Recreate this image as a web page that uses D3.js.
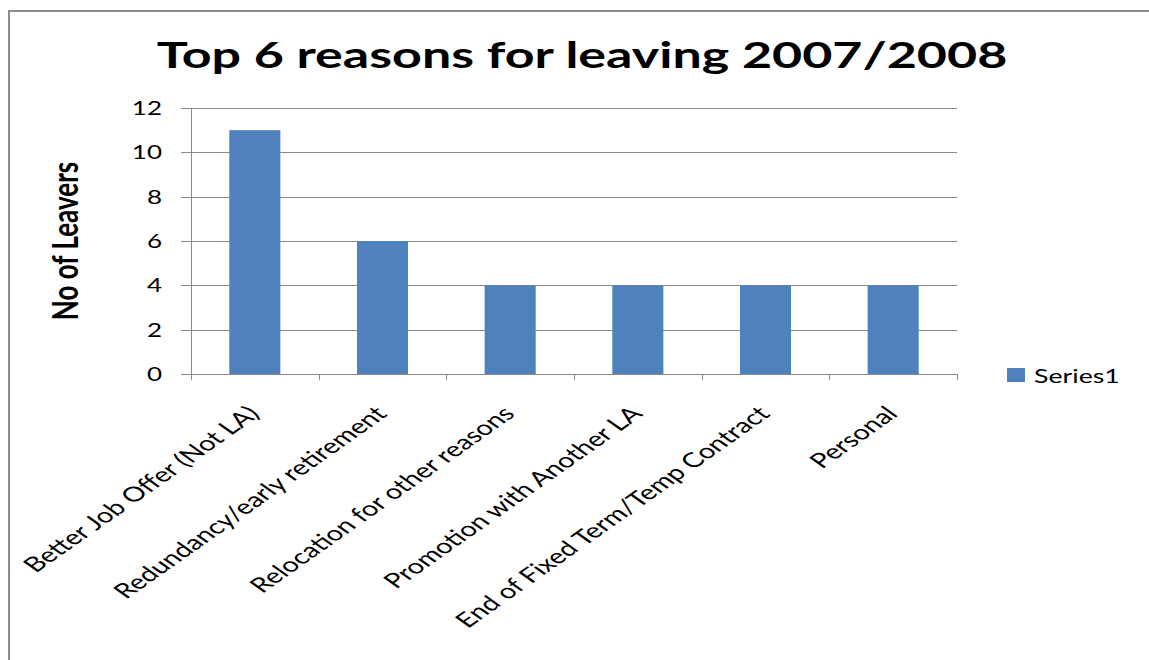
<!DOCTYPE html>
<html>
<head>
<meta charset="utf-8">
<script src="https://cdn.jsdelivr.net/npm/d3@7"></script>
<style>
  body { margin: 0; background: #fff; }
  text { font-family: Lato, "Open Sans", sans-serif; fill: #000; }
</style>
</head>
<body>
<svg id="chart" width="1149" height="660"></svg>
<script>
// Top 6 reasons for leaving 2007/2008

var reasons = ["Better Job Offer (Not LA)", "Redundancy/early retirement", "Relocation for other reasons",
    "Promotion with Another LA", "End of Fixed Term/Temp Contract", "Personal"];
var leavers = [11, 6, 4, 4, 4, 4];
var yTicks = [0, 2, 4, 6, 8, 10, 12];
var seriesName = "Series1";

var svg = d3.select("#chart"),
    width = +svg.attr("width"),
    height = +svg.attr("height");

// the original picture is stretched sideways, so text gets squashed the same way
var stretch = 1.37,
    labelStretch = 1.42;

var margin = {top: 108, right: 192, bottom: 286, left: 191},
    plotW = width - margin.left - margin.right,
    plotH = height - margin.top - margin.bottom;

// outer chart frame
svg.append("rect")
    .attr("x", 9).attr("y", 11)
    .attr("width", 1160).attr("height", 680)
    .attr("fill", "none")
    .attr("stroke", "#8c8c8c")
    .attr("stroke-width", 2);

var x = d3.scaleBand()
    .domain(reasons)
    .range([0, plotW])
    .paddingInner(0.6)
    .paddingOuter(0.3);

var y = d3.scaleLinear()
    .domain([0, 12])
    .range([plotH, 0]);

var g = svg.append("g")
    .attr("transform", "translate(" + margin.left + "," + margin.top + ")");

// gridlines (they stick out left like ticks)
g.append("g")
    .selectAll("line")
    .data(yTicks)
    .enter().append("line")
    .attr("x1", -10).attr("x2", plotW)
    .attr("y1", function(d) { return Math.round(y(d)) + 0.5; })
    .attr("y2", function(d) { return Math.round(y(d)) + 0.5; })
    .attr("stroke", "#888")
    .attr("stroke-width", 1);

// y axis line
g.append("line")
    .attr("x1", 0.5).attr("x2", 0.5)
    .attr("y1", 0).attr("y2", plotH + 6)
    .attr("stroke", "#888");

// category ticks under the axis
var step = plotW / reasons.length;
g.append("g")
    .selectAll("line")
    .data(d3.range(reasons.length + 1))
    .enter().append("line")
    .attr("x1", function(i) { return Math.round(i * step) + 0.5; })
    .attr("x2", function(i) { return Math.round(i * step) + 0.5; })
    .attr("y1", plotH).attr("y2", plotH + 6)
    .attr("stroke", "#888");

// bars
g.selectAll(".bar")
    .data(leavers)
    .enter().append("rect")
    .attr("class", "bar")
    .attr("x", function(d, i) { return x(reasons[i]); })
    .attr("width", x.bandwidth())
    .attr("y", function(d) { return y(d); })
    .attr("height", function(d) { return plotH - y(d); })
    .attr("fill", "#4f81bd");

// y tick labels
g.append("g")
    .selectAll("text")
    .data(yTicks)
    .enter().append("text")
    .attr("transform", function(d) { return "translate(-29," + y(d) + ") scale(" + stretch + ",1)"; })
    .attr("dy", "0.36em")
    .attr("text-anchor", "end")
    .attr("font-size", "19px")
    .text(function(d) { return d; });

// x labels, rotated
g.append("g")
    .selectAll("text")
    .data(reasons)
    .enter().append("text")
    .attr("transform", function(d) {
        return "translate(" + (x(d) + x.bandwidth() / 2 + 6) + "," + (plotH + 41) + ") scale(" + labelStretch + ",1) rotate(-45)";
    })
    .attr("text-anchor", "end")
    .attr("font-size", "20.5px")
    .text(function(d) { return d; });

// y axis title
svg.append("text")
    .attr("transform", "translate(78,241) scale(" + stretch + ",1) rotate(-90)")
    .attr("text-anchor", "middle")
    .attr("font-size", "26px")
    .attr("font-weight", "bold")
    .text("No of Leavers");

// chart title
var title = svg.append("text")
    .attr("text-anchor", "middle")
    .attr("font-size", "37px")
    .attr("font-weight", "bold")
    .text("Top 6 reasons for leaving 2007/2008");
var tw = title.node().getComputedTextLength();
title.attr("transform", "translate(582,68) scale(" + (851 / tw) + ",1)");

// legend
var legend = svg.append("g").attr("transform", "translate(1007,368)");
legend.append("rect")
    .attr("width", 18).attr("height", 14)
    .attr("fill", "#4f81bd");
legend.append("text")
    .attr("transform", "translate(27,15) scale(" + stretch + ",1)")
    .attr("font-size", "19.5px")
    .text(seriesName);
</script>
</body>
</html>
